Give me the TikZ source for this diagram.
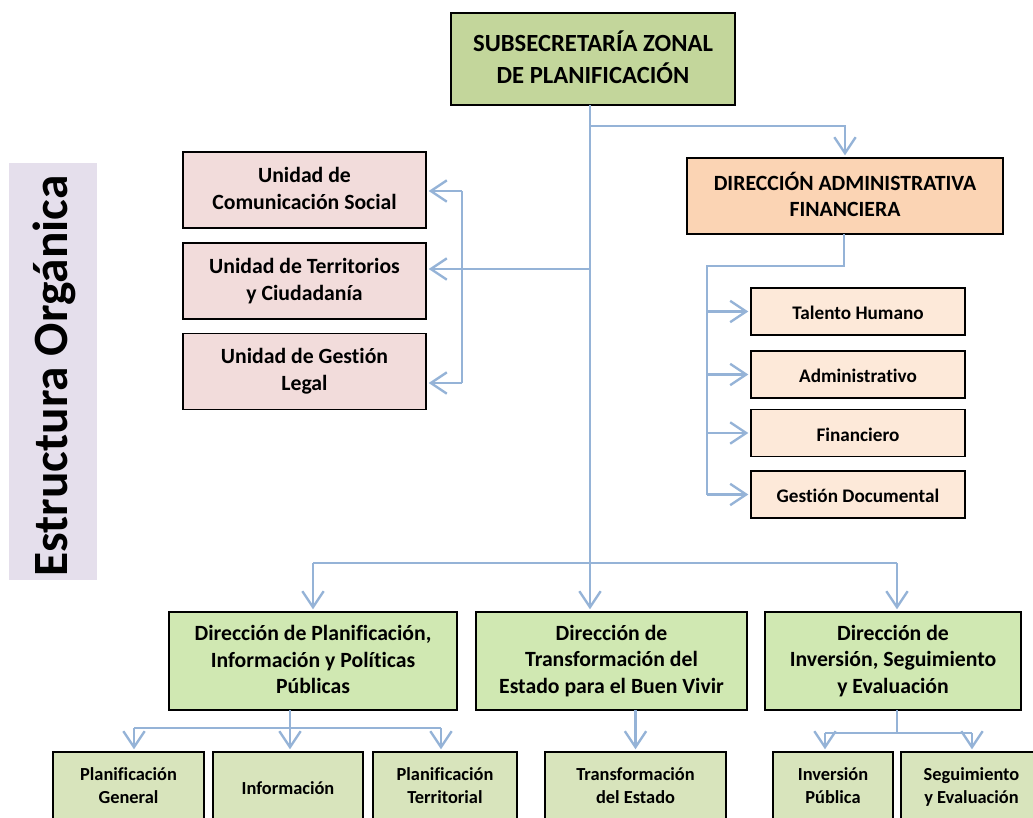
\documentclass[tikz,border=0pt]{standalone}
\usepackage{fontspec}
\setmainfont{Carlito}[Ligatures=NoCommon]
\usetikzlibrary{arrows.meta}
\newcommand\topstrutx{\rule{0pt}{1.0em}}
\newcommand\botstrutx{\rule[-0.15em]{0pt}{0.15em}}
\definecolor{topfill}{HTML}{C3D69B}
\definecolor{daffill}{HTML}{FBD4B4}
\definecolor{unifill}{HTML}{F2DCDB}
\definecolor{subdaf}{HTML}{FDE9D9}
\definecolor{dirfill}{HTML}{D0E8B2}
\definecolor{subfill}{HTML}{D8E4BC}
\definecolor{titlebg}{HTML}{E5DFEC}
\definecolor{conn}{HTML}{95B3D7}
\tikzset{
  box/.style={draw=black, line width=1.4pt, inner sep=0pt, outer sep=0pt, align=center, font=\bfseries\fontsize{16.3}{20}\selectfont, execute at begin node=\topstrutx, execute at end node=\botstrutx},
  topbox/.style={box, fill=topfill, line width=2.2pt, minimum width=213pt, minimum height=69pt, font=\bfseries\fontsize{18.5}{24.5}\selectfont},
  unibox/.style={box, fill=unifill, minimum width=182.25pt, minimum height=57pt},
  dafbox/.style={box, fill=daffill, minimum width=237pt, minimum height=57pt},
  sdbox/.style={box, fill=subdaf, minimum width=160.5pt, minimum height=35.25pt, font=\bfseries\fontsize{14.4}{17}\selectfont},
  dirbox/.style={box, fill=dirfill, minimum height=73.5pt},
  subbox/.style={box, fill=subfill, line width=1.2pt, minimum height=52.5pt, font=\bfseries\fontsize{13.8}{17}\selectfont},
  cline/.style={draw=conn, line width=1.8pt},
  arr/.style={cline, -{Straight Barb[length=12pt,width=16pt,line width=1.8pt]}, shorten >=2pt},
}
\begin{document}
\begin{tikzpicture}[x=0.75pt,y=-0.75pt]
\useasboundingbox (0,0) rectangle (1033,818);
\clip (0,0) rectangle (1033,818);
% title
\node[fill=titlebg, minimum width=66pt, minimum height=312.75pt, inner sep=0pt] (tbg) at (53,371.5) {};
\node[rotate=90, font=\bfseries\fontsize{37}{37}\selectfont] (title) at (54,376) {Estructura Orgánica};
% boxes
\node[topbox] (top) at (593,59) {SUBSECRETARÍA ZONAL\\DE PLANIFICACIÓN};
\node[unibox] (u1) at (304.5,190) {Unidad de\\Comunicación Social};
\node[unibox] (u2) at (304.5,281) {Unidad de Territorios\\y Ciudadanía};
\node[unibox] (u3) at (304.5,371.5) {Unidad de Gestión\\Legal};
\node[dafbox] (daf) at (845,196) {DIRECCIÓN ADMINISTRATIVA\\FINANCIERA};
\node[sdbox] (s1) at (858,311.5) {Talento Humano};
\node[sdbox] (s2) at (858,374.5) {Administrativo};
\node[sdbox] (s3) at (858,433) {Financiero};
\node[sdbox] (s4) at (858,494.5) {Gestión Documental};
\node[dirbox, minimum width=216pt] (d1) at (313,661) {Dirección de Planificación,\\Información y Políticas\\Públicas};
\node[dirbox, minimum width=203.25pt] (d2) at (611.5,661) {Dirección de\\Transformación del\\Estado para el Buen Vivir};
\node[dirbox, minimum width=192pt] (d3) at (893,661) {Dirección de\\Inversión, Seguimiento\\y Evaluación};
\node[subbox, minimum width=113.25pt] (p1) at (128.5,787) {Planificación\\General};
\node[subbox, minimum width=112.5pt] (p2) at (288,787) {Información};
\node[subbox, minimum width=108pt] (p3) at (445,787) {Planificación\\Territorial};
\node[subbox, minimum width=135.75pt] (t1) at (635.5,787) {Transformación\\del Estado};
\node[subbox, minimum width=90pt] (i1) at (833,787) {Inversión\\Pública};
\node[subbox, minimum width=105.75pt] (i2) at (971.5,787) {Seguimiento\\y Evaluación};
% connector coordinates
\coordinate (m) at (590,0);
\coordinate (bd) at (590,126);
\coordinate (bu) at (590,269);
\coordinate (lvt) at (462,191);
\coordinate (lvb) at (462,383);
\coordinate (dh) at (844,266);
\coordinate (dv) at (707,266);
\coordinate (bl) at (313,563);
\coordinate (br) at (897,563);
\coordinate (p1x) at (134,728);
\coordinate (p2x) at (290,728);
\coordinate (p3x) at (441,728);
\coordinate (i1x) at (825,733);
\coordinate (i2x) at (972,733);
\coordinate (i0x) at (897,733);
% connectors
\draw[arr] (top.south -| m) -- (d2.north -| m);
\draw[arr] (bd) -| (daf.north);
\draw[arr] (bu) -- (u2.east |- bu);
\draw[cline] (lvt) -- (lvb);
\draw[arr] (lvt) -- (u1.east |- lvt);
\draw[arr] (lvb) -- (u3.east |- lvb);
\draw[cline] (daf.south -| dh) -- (dh) -- (dv) -- (dv |- s4.west);
\draw[arr] (dv |- s1.west) -- (s1.west);
\draw[arr] (dv |- s2.west) -- (s2.west);
\draw[arr] (dv |- s3.west) -- (s3.west);
\draw[arr] (dv |- s4.west) -- (s4.west);
\draw[cline] (bl) -- (br);
\draw[arr] (bl) -- (d1.north -| bl);
\draw[arr] (br) -- (d3.north -| br);
\draw[cline] (d1.south -| p2x) -- (p2x);
\draw[cline] (p1x) -- (p3x);
\draw[arr] (p1x) -- (p1.north -| p1x);
\draw[arr] (p2x) -- (p2.north -| p2x);
\draw[arr] (p3x) -- (p3.north -| p3x);
\draw[arr] (d2.south -| t1) -- (t1.north);
\draw[cline] (d3.south -| i0x) -- (i0x);
\draw[cline] (i1x) -- (i2x);
\draw[arr] (i1x) -- (i1.north -| i1x);
\draw[arr] (i2x) -- (i2.north -| i2x);
\end{tikzpicture}
\end{document}
